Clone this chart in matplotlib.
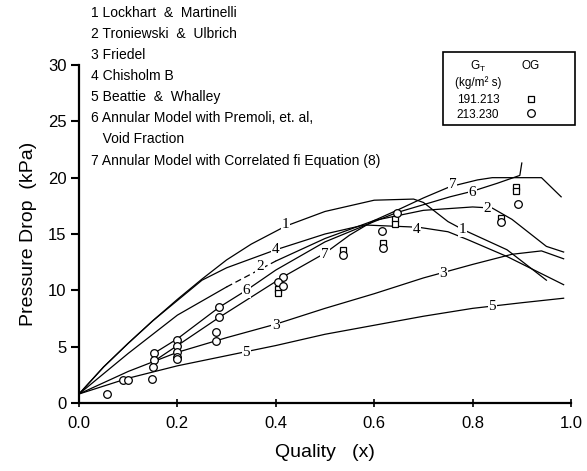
import matplotlib
matplotlib.use("Agg")
import matplotlib.pyplot as plt
from matplotlib.patches import Rectangle

plt.rcParams['font.family'] = ['Liberation Sans', 'DejaVu Sans']

# curve data (quality x, pressure drop kPa)
x1 = [0, 0.05, 0.10, 0.15, 0.20, 0.25, 0.30, 0.35, 0.42, 0.50, 0.60, 0.68, 0.70, 0.75, 0.78, 0.87, 0.95]
y1 = [0.8, 3.2, 5.3, 7.3, 9.2, 11.0, 12.7, 14.1, 15.7, 17.0, 18.0, 18.1, 17.8, 16.1, 15.4, 13.6, 10.9]

x2 = [0, 0.10, 0.20, 0.30, 0.40, 0.50, 0.60, 0.70, 0.80, 0.84, 0.88, 0.95, 0.985]
y2 = [0.8, 4.4, 7.8, 10.3, 12.6, 14.6, 16.2, 17.1, 17.4, 17.3, 16.3, 13.9, 13.4]

x3 = [0, 0.10, 0.20, 0.30, 0.40, 0.50, 0.60, 0.70, 0.80, 0.88, 0.94, 0.985]
y3 = [0.8, 2.8, 4.5, 5.8, 7.0, 8.4, 9.7, 11.1, 12.3, 13.2, 13.5, 12.8]

x4 = [0, 0.05, 0.10, 0.15, 0.20, 0.25, 0.30, 0.40, 0.50, 0.58, 0.69, 0.75, 0.79, 0.87, 0.985]
y4 = [0.8, 3.2, 5.3, 7.3, 9.1, 10.9, 12.0, 13.6, 15.0, 15.8, 15.6, 15.2, 14.5, 13.0, 10.5]

x5 = [0, 0.10, 0.20, 0.30, 0.40, 0.50, 0.60, 0.70, 0.80, 0.90, 0.985]
y5 = [0.8, 2.2, 3.3, 4.2, 5.1, 6.1, 6.9, 7.7, 8.4, 8.9, 9.3]

x6 = [0.152, 0.20, 0.285, 0.34, 0.40, 0.50, 0.55, 0.60, 0.646, 0.70, 0.754, 0.80, 0.85, 0.896, 0.90]
y6 = [4.4, 5.7, 8.5, 10.0, 11.8, 14.3, 15.2, 16.1, 16.9, 17.6, 18.3, 18.8, 19.5, 20.2, 21.3]

x7 = [0.152, 0.20, 0.285, 0.415, 0.50, 0.55, 0.60, 0.646, 0.70, 0.754, 0.81, 0.84, 0.94, 0.98]
y7 = [3.7, 5.1, 7.6, 11.2, 13.3, 14.9, 16.2, 17.1, 18.2, 19.2, 19.8, 20.0, 20.0, 18.3]

# experimental points
sq_x = [0.405, 0.405, 0.537, 0.617, 0.643, 0.643, 0.857, 0.888, 0.888]
sq_y = [10.1, 9.8, 13.6, 14.2, 16.3, 15.9, 16.4, 19.2, 18.8]
ci_x = [0.057, 0.09, 0.10, 0.152, 0.152, 0.150, 0.148, 0.199, 0.199, 0.199, 0.199, 0.199,
        0.284, 0.285, 0.279, 0.278, 0.415, 0.405, 0.415, 0.537, 0.615, 0.617, 0.646, 0.857, 0.892]
ci_y = [0.8, 2.0, 2.0, 4.4, 3.8, 3.2, 2.1, 5.6, 5.1, 4.5, 4.1, 3.9,
        8.5, 7.6, 6.3, 5.5, 11.2, 10.7, 10.4, 13.1, 15.3, 13.8, 16.9, 16.1, 17.7]

# curve number labels (number, x, y)
curve_labels = [("1", 0.42, 15.8), ("1", 0.78, 15.4),
                ("2", 0.368, 12.1), ("2", 0.83, 17.3),
                ("3", 0.40, 6.9), ("3", 0.74, 11.5),
                ("4", 0.40, 13.6), ("4", 0.686, 15.4),
                ("5", 0.34, 4.5), ("5", 0.84, 8.6),
                ("6", 0.34, 10.0), ("6", 0.80, 18.7),
                ("7", 0.50, 13.2), ("7", 0.76, 19.4)]

methods = ["1 Lockhart  &  Martinelli",
           "2 Troniewski  &  Ulbrich",
           "3 Friedel",
           "4 Chisholm B",
           "5 Beattie  &  Whalley",
           "6 Annular Model with Premoli, et. al,",
           "   Void Fraction",
           "7 Annular Model with Correlated fi Equation (8)"]

W, H = 587, 471
fig = plt.figure(figsize=(W / 100, H / 100), dpi=100)
ax = fig.add_axes([79 / W, 1 - 403 / H, (571 - 79) / W, (403 - 65) / H])

lw = 0.9
ax.plot(x1, y1, color='black', lw=lw)
ax.plot(x2[:4], y2[:4], color='black', lw=lw)
ax.plot(x2[3:5], y2[3:5], color='black', lw=lw, ls=(0, (5, 3)))
ax.plot(x2[4:], y2[4:], color='black', lw=lw)
ax.plot(x3, y3, color='black', lw=lw)
ax.plot(x4, y4, color='black', lw=lw)
ax.plot(x5, y5, color='black', lw=lw)
ax.plot(x6, y6, color='black', lw=lw)
ax.plot(x7, y7, color='black', lw=lw)

ax.plot(sq_x, sq_y, 's', ms=5, mfc='white', mec='black', mew=0.9, zorder=4)
ax.plot(ci_x, ci_y, 'o', ms=5.5, mfc='white', mec='black', mew=0.9, zorder=4)

for num, lx, ly in curve_labels:
    ax.text(lx, ly, num, ha='center', va='center', fontsize=11, family='Liberation Serif',
            bbox=dict(fc='white', ec='none', pad=0.6), zorder=5)

ax.set_xlim(0, 1.0)
ax.set_ylim(0, 30)
ax.set_xticks([0, 0.2, 0.4, 0.6, 0.8, 1.0])
ax.set_xticklabels(["0.0", "0.2", "0.4", "0.6", "0.8", "1.0"])
ax.set_yticks([0, 5, 10, 15, 20, 25, 30])
ax.spines['top'].set_visible(False)
ax.spines['right'].set_visible(False)
ax.spines['left'].set_linewidth(1.6)
ax.spines['bottom'].set_linewidth(1.6)
ax.tick_params(axis='y', direction='out', length=6, width=1.5, labelsize=12, pad=3)
ax.tick_params(axis='x', direction='inout', length=6, width=1.2, labelsize=12, pad=6)
ax.set_xlabel("Quality   (x)", fontsize=14, labelpad=10)
ax.set_ylabel("Pressure Drop  (kPa)", fontsize=14, labelpad=8)

# list of methods at the top
ys = [13, 34, 55, 76, 97, 118, 139, 161]
for t, py in zip(methods, ys):
    fig.text(91 / W, 1 - py / H, t, fontsize=10, va='center', ha='left')

# legend box
fig.patches.append(Rectangle((443 / W, 1 - 125 / H), 132 / W, 73 / H, transform=fig.transFigure,
                             fill=False, ec='black', lw=1.2))
fig.text(478 / W, 1 - 66 / H, r"$\mathregular{G_T}$", fontsize=8.5, ha='center', va='center')
fig.text(531 / W, 1 - 66 / H, "OG", fontsize=8.5, ha='center', va='center')
fig.text(478 / W, 1 - 83 / H, "(kg/m² s)", fontsize=8.5, ha='center', va='center')
fig.text(478 / W, 1 - 100 / H, "191.213", fontsize=8.5, ha='center', va='center')
fig.text(478 / W, 1 - 115 / H, "213.230", fontsize=8.5, ha='center', va='center')
ax.plot([531 / W], [1 - 99 / H], 's', ms=5, mfc='white', mec='black', mew=0.9,
        transform=fig.transFigure, clip_on=False)
ax.plot([531 / W], [1 - 113 / H], 'o', ms=5.5, mfc='white', mec='black', mew=0.9,
        transform=fig.transFigure, clip_on=False)

fig.savefig("out.png", dpi=100)
